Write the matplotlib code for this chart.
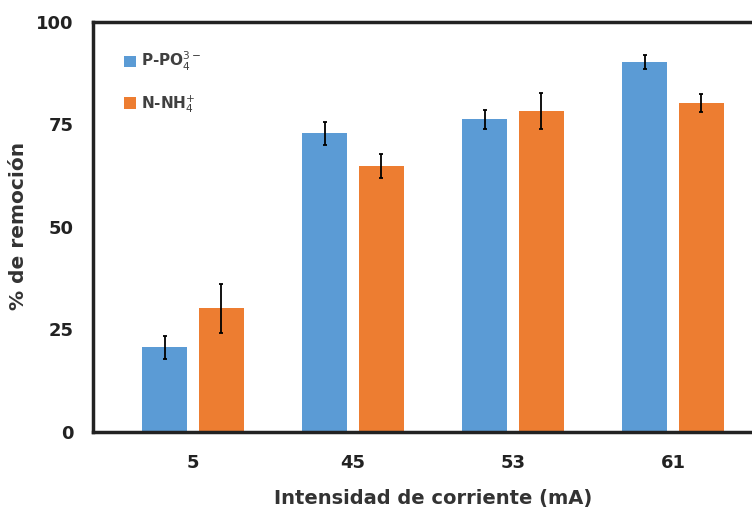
import matplotlib
matplotlib.use("Agg")
import matplotlib.pyplot as plt
import numpy as np

categories = ["5", "45", "53", "61"]
p_po4 = [20.7, 72.9, 76.3, 90.3]
p_po4_err = [2.8, 2.8, 2.3, 1.7]
n_nh4 = [30.2, 64.9, 78.3, 80.3]
n_nh4_err = [6.0, 2.9, 4.5, 2.2]

plt.rcParams['font.family'] = ['DejaVu Sans']
plt.rcParams['mathtext.fontset'] = 'dejavusans'
W, H = 752, 508
fig = plt.figure(figsize=(W/100, H/100), dpi=100)
ax = fig.add_axes([93/W, (H-432)/H, (773-93)/W, 410/H])

x = np.arange(len(categories))
bw = 0.28
off = 0.178
ekw = dict(ecolor='black', elinewidth=1.3, capsize=1.5, capthick=1.3)
ax.bar(x - off, p_po4, bw, yerr=p_po4_err, color='#5B9BD5',
       label=r'P-PO$_4^{3-}$', error_kw=ekw, zorder=2)
ax.bar(x + off, n_nh4, bw, yerr=n_nh4_err, color='#ED7D31',
       label=r'N-NH$_4^{+}$', error_kw=ekw, zorder=2)

ax.set_xlim(-0.625, 3.625)
ax.set_ylim(0, 100)
ax.set_yticks([0, 25, 50, 75, 100])
ax.set_xticks(x)
ax.set_xticklabels(categories)
for sp in ax.spines.values():
    sp.set_linewidth(2.5)
    sp.set_color('#222222')
ax.tick_params(length=0, labelsize=13, colors='#222222')
ax.tick_params(axis='x', pad=16)
ax.tick_params(axis='y', pad=14)
for lab in ax.get_xticklabels() + ax.get_yticklabels():
    lab.set_fontweight('bold')
ax.set_xlabel('Intensidad de corriente (mA)', fontsize=14, fontweight='bold',
              color='#333333', labelpad=12)
ax.set_ylabel('% de remoción', fontsize=14.5, fontweight='bold',
              color='#333333', va='center')
ax.yaxis.set_label_coords((19 - 93) / 680, (432 - 226) / 410)
leg = ax.legend(loc='upper left', bbox_to_anchor=(0.025, 0.965), frameon=False,
                fontsize=11, handlelength=0.8, handleheight=0.8,
                labelspacing=1.3, handletextpad=0.3)
for t in leg.get_texts():
    t.set_color('#404040')
    t.set_fontweight('bold')

fig.savefig('out.png', dpi=100)
